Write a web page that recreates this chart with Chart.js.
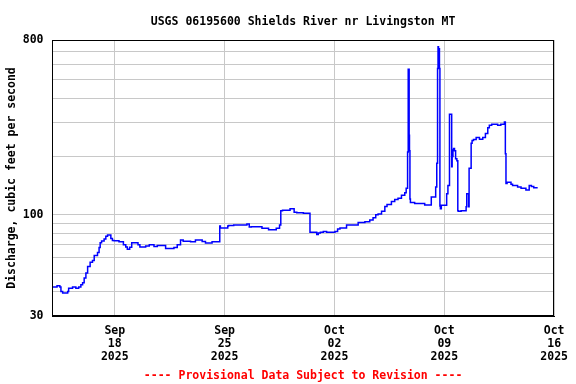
<!DOCTYPE html>
<html>
<head>
<meta charset="utf-8">
<script src="https://cdn.jsdelivr.net/npm/chart.js@4.4.1/dist/chart.umd.min.js"></script>
<style>
  html, body { margin: 0; padding: 0; background: #fff; }
</style>
</head>
<body>
<canvas id="flowChart" width="576" height="384"></canvas>
<script>
// Shields River discharge, hydrograph on a log axis
const chartTitle = 'USGS 06195600 Shields River nr Livingston MT';
const footNote = '---- Provisional Data Subject to Revision ----';
const yTitle = 'Discharge, cubic feet per second';

// days since 2025-09-14 00:00
const days = [
  0.00, 0.32, 0.50, 0.57, 0.68, 1.00, 1.06, 1.31, 1.52, 1.70,
  1.84, 1.95, 2.05, 2.16, 2.27, 2.43, 2.58, 2.69, 2.90, 3.00,
  3.07, 3.16, 3.32, 3.43, 3.54, 3.75, 3.85, 3.96, 4.27, 4.55,
  4.70, 4.80, 4.95, 5.08, 5.48, 5.60, 5.97, 6.20, 6.50, 6.71,
  7.24, 7.77, 7.98, 8.19, 8.36, 8.83, 9.14, 9.57, 9.78, 10.20,
  10.69, 10.73, 11.20, 11.25, 11.58, 12.42, 12.57, 12.70, 13.38, 13.80,
  14.29, 14.50, 14.58, 14.69, 15.17, 15.43, 15.60, 16.02, 16.44, 16.87,
  16.97, 17.10, 17.29, 17.50, 18.03, 18.20, 18.35, 18.77, 19.51, 19.94,
  20.25, 20.46, 20.63, 20.78, 21.00, 21.21, 21.35, 21.63, 21.84, 22.05,
  22.27, 22.48, 22.57, 22.66, 22.70, 22.76, 22.78, 22.81, 22.84, 23.11,
  23.75, 24.17, 24.45, 24.52, 24.57, 24.60, 24.63, 24.69, 24.72, 24.75,
  24.81, 25.15, 25.23, 25.33, 25.47, 25.50, 25.55, 25.59, 25.65, 25.72,
  25.80, 25.86, 25.90, 26.07, 26.39, 26.43, 26.55, 26.58, 26.71, 26.77,
  26.86, 27.03, 27.24, 27.45, 27.62, 27.77, 27.87, 28.02, 28.40, 28.60,
  28.83, 28.89, 28.93, 29.00, 29.25, 29.35, 29.67, 29.89, 30.20, 30.41,
  30.55, 30.70, 30.85, 30.95
];
const discharge = [
  41.5, 42.3, 43.0, 42.3, 40.2, 39.5, 40.2, 41.7, 42.3, 41.7,
  42.3, 43.5, 44.6, 47.1, 50.0, 54.1, 56.8, 58.0, 61.7, 63.8,
  67.8, 71.8, 73.2, 75.0, 77.5, 78.6, 75.4, 73.7, 73.5, 72.5,
  70.0, 68.1, 66.3, 68.0, 71.8, 70.0, 68.1, 69.0, 70.0, 68.5,
  69.5, 66.9, 67.8, 70.0, 74.0, 73.0, 72.5, 74.0, 72.8, 71.5,
  72.5, 87.6, 85.5, 87.6, 88.0, 88.6, 89.5, 86.5, 86.8, 85.1,
  83.7, 85.1, 88.6, 104.9, 105.5, 107.3, 103.0, 102.5, 102.0, 81.2,
  79.2, 80.5, 81.2, 82.0, 81.2, 82.0, 84.4, 85.5, 88.6, 91.2,
  92.0, 93.9, 96.5, 100.0, 101.0, 104.3, 110.4, 113.0, 117.3, 120.0,
  121.9, 126.0, 130.0, 137.0, 211.0, 565.0, 258.0, 214.0, 120.5, 115.6,
  114.3, 112.2, 123.5, 139.0, 184.5, 570.0, 739.0, 720.0, 570.0, 111.1,
  107.4, 112.0, 128.3, 141.6, 331.0, 177.0, 200.0, 216.0, 220.0, 214.0,
  195.0, 190.0, 105.0, 104.4, 105.0, 110.0, 128.5, 110.0, 174.0, 234.5,
  242.0, 245.0, 251.0, 246.0, 251.0, 263.0, 282.0, 290.0, 294.0, 290.0,
  294.0, 302.0, 207.0, 145.0, 147.4, 144.0, 141.6, 139.0, 137.0, 134.5,
  141.6, 140.0, 138.0, 138.0
];

const tickDays = [4, 11, 18, 25, 32];
const tickLabels = [
  ['Sep', '18', '2025'],
  ['Sep', '25', '2025'],
  ['Oct', '02', '2025'],
  ['Oct', '09', '2025'],
  ['Oct', '16', '2025']
];
const yTicks = [30, 40, 50, 60, 70, 80, 90, 100, 200, 300, 400, 500, 600, 700, 800];
const yLabelled = [30, 100, 800];

const monoFont = { family: '"DejaVu Sans Mono", "Liberation Mono", monospace', size: 11.5, weight: 'bold' };

// title, footnote and the black frame round the plot
const frameAndCaptions = {
  id: 'frameAndCaptions',
  afterDraw(chart) {
    const { ctx, chartArea: a } = chart;
    const cx = (a.left + a.right) / 2;
    ctx.save();
    ctx.strokeStyle = '#000';
    ctx.lineWidth = 1;
    ctx.strokeRect(Math.round(a.left) + 0.5, Math.round(a.top) + 0.5,
      Math.round(a.right - a.left) - 1, Math.round(a.bottom - a.top) - 1);
    ctx.font = `bold ${monoFont.size}px ${monoFont.family}`;
    ctx.textAlign = 'center';
    ctx.textBaseline = 'middle';
    ctx.fillStyle = '#000';
    ctx.fillText(chartTitle, cx, 22);
    ctx.fillStyle = '#f00';
    ctx.fillText(footNote, cx, 376.5);
    ctx.restore();
  }
};

new Chart(document.getElementById('flowChart'), {
  type: 'line',
  data: {
    datasets: [{
      data: days.map((d, i) => ({ x: d, y: discharge[i] })),
      borderColor: '#0000ff',
      borderWidth: 1.5,
      pointRadius: 0,
      stepped: 'after',
      fill: false
    }]
  },
  options: {
    responsive: false,
    animation: false,
    layout: { padding: { top: 40, right: 21, bottom: 20, left: 1 } },
    plugins: {
      legend: { display: false },
      tooltip: { enabled: false }
    },
    scales: {
      x: {
        type: 'linear',
        min: 0,
        max: 32,
        afterBuildTicks: s => { s.ticks = tickDays.map(v => ({ value: v })); },
        afterFit: s => { s.height = 48; },
        grid: { color: '#c8c8c8', drawTicks: false },
        border: { color: '#000' },
        ticks: {
          autoSkip: false,
          maxRotation: 0,
          padding: 8,
          color: '#000',
          font: { ...monoFont, lineHeight: 1.15 },
          callback: v => tickLabels[tickDays.indexOf(v)] || ''
        }
      },
      y: {
        type: 'logarithmic',
        min: 30,
        max: 800,
        afterBuildTicks: s => { s.ticks = yTicks.map(v => ({ value: v })); },
        afterFit: s => { s.width = 51; },
        grid: { color: '#c8c8c8', drawTicks: false },
        border: { color: '#000' },
        ticks: {
          padding: 8.5,
          color: '#000',
          font: monoFont,
          callback: v => yLabelled.includes(v) ? String(v) : ''
        },
        title: {
          display: true,
          text: yTitle,
          color: '#000',
          font: monoFont,
          padding: { top: 4, bottom: 0 }
        }
      }
    }
  },
  plugins: [frameAndCaptions]
});
</script>
</body>
</html>
